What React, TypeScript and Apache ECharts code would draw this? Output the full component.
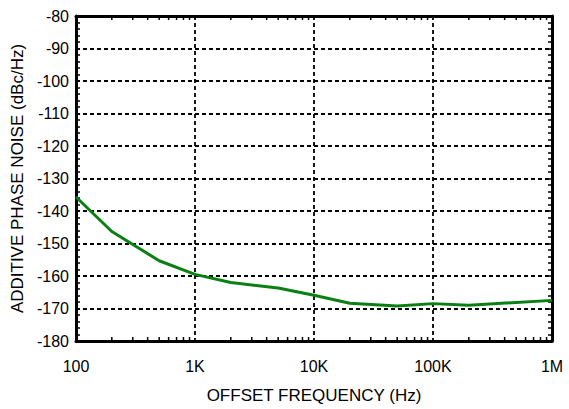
import React, { useEffect, useRef } from "react";
import * as echarts from "echarts";

const FREQ = [100, 200, 500, 1000, 2000, 5000, 10000, 20000, 50000, 100000, 200000, 1000000];
const NOISE = [-135.7, -146.3, -155.3, -159.5, -162.0, -163.7, -165.9, -168.4, -169.2, -168.5, -169.0, -167.5];

const X_TICKS = [100, 1000, 10000, 100000, 1000000];
const X_TICK_LABELS = ["100", "1K", "10K", "100K", "1M"];
const MINOR_DECADES = [100, 1000, 10000, 100000];
const MINOR_MULT = [2, 3, 4, 5, 6, 7, 8, 9];

const Y_MIN = -180;
const Y_MAX = -80;
const Y_STEP = 10;

const FONT = "'Liberation Sans', Arial, Helvetica, sans-serif";

export default function App() {
  const ref = useRef<HTMLDivElement>(null);

  useEffect(() => {
    if (!ref.current) return;
    const chart = echarts.init(ref.current, null, { renderer: "svg" });

    const minorX: number[][] = [];
    MINOR_DECADES.forEach((d) => MINOR_MULT.forEach((m) => minorX.push([d * m, Y_MIN])));

    const fmtX = (v: number) => {
      const i = X_TICKS.findIndex((t) => Math.abs(t - v) / t < 1e-6);
      return i >= 0 ? X_TICK_LABELS[i] : "";
    };

    const axisLine = { show: true, onZero: false, lineStyle: { color: "#000", width: 3 } };
    const gridLine = { show: true, lineStyle: { color: "#000", width: 1.8, type: [4, 3] } };

    chart.setOption({
      animation: false,
      backgroundColor: "#fff",
      grid: { left: 76, right: 17, top: 16, bottom: 67, containLabel: false },
      xAxis: [
        {
          type: "log",
          logBase: 10,
          min: 100,
          max: 1000000,
          position: "bottom",
          axisLine,
          axisTick: { show: false },
          axisLabel: {
            formatter: fmtX,
            color: "#000",
            fontSize: 16,
            fontFamily: FONT,
            margin: 17,
            showMinLabel: true,
            showMaxLabel: true,
          },
          splitLine: gridLine,
          name: "OFFSET FREQUENCY (Hz)",
          nameLocation: "middle",
          nameGap: 46,
          nameTextStyle: { color: "#000", fontSize: 17, fontFamily: FONT },
        },
        {
          type: "log",
          logBase: 10,
          min: 100,
          max: 1000000,
          position: "top",
          axisLine,
          axisTick: { show: false },
          axisLabel: { show: false },
          splitLine: { show: false },
        },
      ],
      yAxis: [
        {
          type: "value",
          min: Y_MIN,
          max: Y_MAX,
          interval: Y_STEP,
          position: "left",
          axisLine,
          axisTick: { show: true, inside: true, length: 4, lineStyle: { color: "#000", width: 1.5 } },
          minorTick: { show: true, splitNumber: 5, length: 4, lineStyle: { color: "#000", width: 1.5 } },
          axisLabel: { color: "#000", fontSize: 16, fontFamily: FONT, margin: 7 },
          splitLine: gridLine,
          name: "ADDITIVE PHASE NOISE (dBc/Hz)",
          nameLocation: "middle",
          nameGap: 42,
          nameTextStyle: { color: "#000", fontSize: 17, fontFamily: FONT },
        },
        {
          type: "value",
          min: Y_MIN,
          max: Y_MAX,
          interval: Y_STEP,
          position: "right",
          axisLine,
          axisTick: { show: true, inside: true, length: 4, lineStyle: { color: "#000", width: 1.5 } },
          minorTick: { show: true, splitNumber: 5, length: 4, lineStyle: { color: "#000", width: 1.5 } },
          axisLabel: { show: false },
          splitLine: { show: false },
        },
      ],
      series: [
        {
          type: "custom",
          xAxisIndex: 0,
          yAxisIndex: 0,
          silent: true,
          clip: false,
          data: minorX,
          encode: { x: 0, y: 1 },
          renderItem: (params: any, api: any) => {
            const v = api.value(0);
            const b = api.coord([v, Y_MIN]);
            const t = api.coord([v, Y_MAX]);
            const style = { stroke: "#000", lineWidth: 1.5 };
            return {
              type: "group",
              children: [
                { type: "line", shape: { x1: b[0], y1: b[1], x2: b[0], y2: b[1] - 4 }, style },
                { type: "line", shape: { x1: t[0], y1: t[1], x2: t[0], y2: t[1] + 4 }, style },
              ],
            };
          },
        },
        {
          type: "line",
          xAxisIndex: 0,
          yAxisIndex: 0,
          data: FREQ.map((f, i) => [f, NOISE[i]]),
          symbol: "none",
          lineStyle: { color: "#0a7f14", width: 3 },
          z: 5,
        },
      ],
    });

    return () => chart.dispose();
  }, []);

  return (
    <div
      ref={ref}
      style={{ position: "fixed", left: 0, top: 0, width: 569, height: 409 }}
    />
  );
}
